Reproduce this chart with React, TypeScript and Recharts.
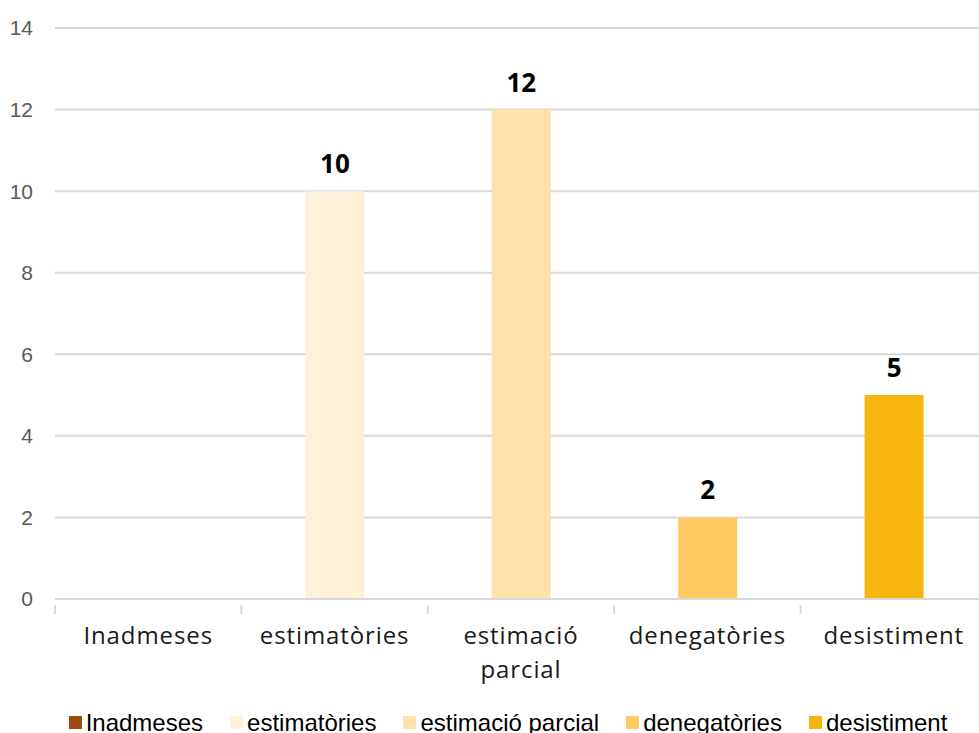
import { BarChart, Bar, XAxis, YAxis, CartesianGrid, Legend, Cell, LabelList } from 'recharts'

const CATEGORIES = ['Inadmeses', 'estimatòries', 'estimació parcial', 'denegatòries', 'desistiment']
const VALUES = [0, 10, 12, 2, 5]
const COLORS = ['#9c4a10', '#fff0d9', '#ffe1a9', '#ffca62', '#f8b50f']
const Y_TICKS = [0, 2, 4, 6, 8, 10, 12, 14]

const data = CATEGORIES.map((name, i) => ({ name, value: VALUES[i] }))

const GRID = '#d9d9d9'

function CategoryTick(props: any) {
  const { x, y, payload } = props
  const half = payload?.offset ?? 93
  const lines = String(payload.value).split(' ')
  return (
    <g>
      <line x1={x - half} x2={x - half} y1={y - 2} y2={y + 7} stroke={GRID} strokeWidth={2} />
      <text
        x={x}
        y={y + 37}
        textAnchor="middle"
        fontSize={24}
        fontFamily='"Open Sans", sans-serif'
        letterSpacing={0.9}
        fill="#1a1a1a"
      >
        {lines.map((l, i) => (
          <tspan key={i} x={x} dy={i === 0 ? 0 : 34}>
            {l}
          </tspan>
        ))}
      </text>
    </g>
  )
}

function LegendContent() {
  return (
    <div
      style={{
        display: 'flex',
        justifyContent: 'center',
        gap: 27,
        fontFamily: '"Liberation Sans", Arial, sans-serif',
        fontSize: 24,
        lineHeight: '27px',
        color: '#000',
        paddingLeft: 29,
        paddingTop: 10,
      }}
    >
      {CATEGORIES.map((c, i) => (
        <span key={c} style={{ display: 'flex', alignItems: 'center', gap: 4 }}>
          <span style={{ width: 13, height: 13, background: COLORS[i], display: 'inline-block' }} />
          {c}
        </span>
      ))}
    </div>
  )
}

export default function App() {
  return (
    <div style={{ position: 'absolute', left: 0, top: 0, width: 979, height: 733, overflow: 'hidden', background: '#fff' }}>
      <BarChart width={987} height={733} data={data} margin={{ top: 28, right: 0, left: 0, bottom: 0 }}>
        <CartesianGrid vertical={false} stroke={GRID} strokeWidth={2} />
        <XAxis
          dataKey="name"
          interval={0}
          height={100}
          axisLine={{ stroke: GRID, strokeWidth: 2 }}
          tickLine={false}
          tick={<CategoryTick />}
        />
        <YAxis
          width={55}
          domain={[0, 14]}
          ticks={Y_TICKS}
          axisLine={false}
          tickLine={false}
          tickSize={0}
          tickMargin={22}
          tick={{ fontSize: 21, fill: '#595959', fontFamily: '"Liberation Sans", Arial, sans-serif' }}
        />
        <Legend verticalAlign="bottom" height={34} content={<LegendContent />} />
        <Bar dataKey="value" barSize={59} isAnimationActive={false}>
          {data.map((d, i) => (
            <Cell key={d.name} fill={COLORS[i]} />
          ))}
          <LabelList
            dataKey="value"
            position="top"
            offset={18}
            style={{ fontSize: 26, fontWeight: 700, fill: '#000', fontFamily: '"Open Sans", sans-serif' }}
          />
        </Bar>
      </BarChart>
    </div>
  )
}
